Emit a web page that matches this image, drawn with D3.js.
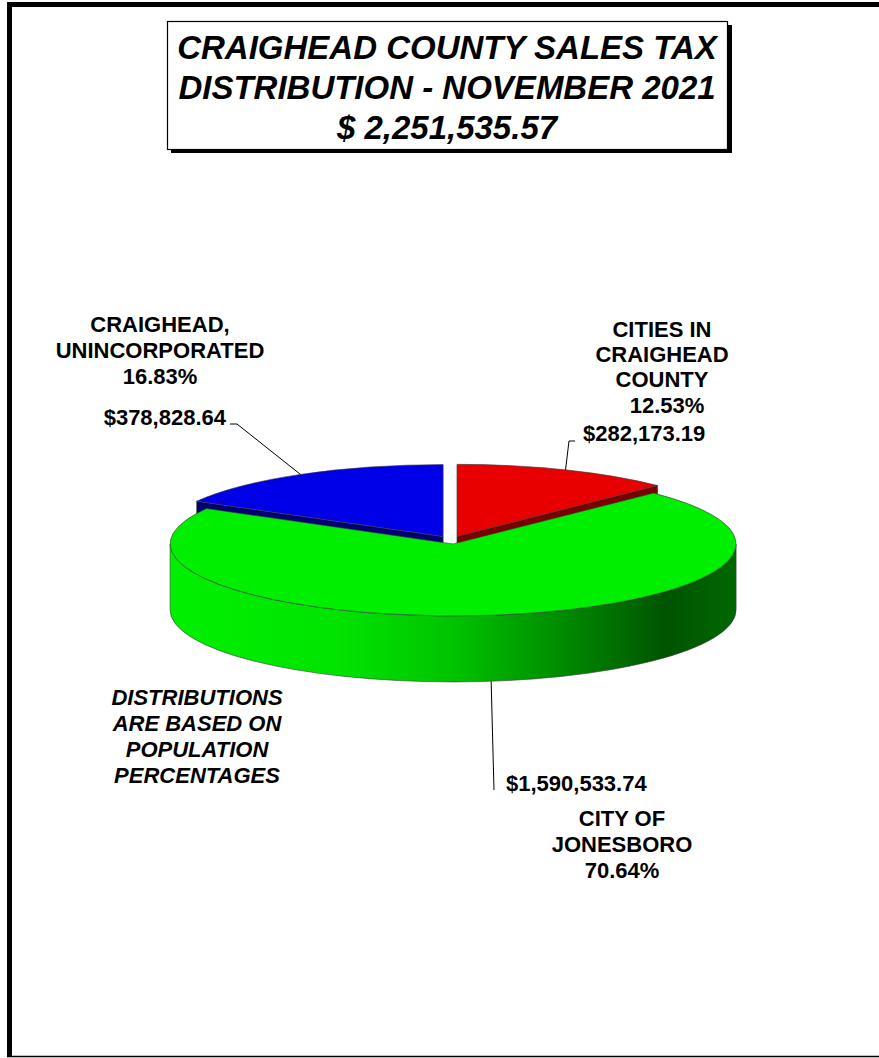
<!DOCTYPE html>
<html>
<head>
<meta charset="utf-8">
<script src="https://cdn.jsdelivr.net/npm/d3@7/dist/d3.min.js"></script>
<style>
  html, body { margin: 0; padding: 0; background: #ffffff; }
  svg { display: block; }
  text { font-family: "Liberation Sans", Arial, sans-serif; font-weight: bold; fill: #000; }
</style>
</head>
<body>
<svg id="chart" width="879" height="1058"></svg>
<script>
// ---- data ----
const categories = ["CITIES IN CRAIGHEAD COUNTY", "CITY OF JONESBORO", "CRAIGHEAD, UNINCORPORATED"];
const amounts = [282173.19, 1590533.74, 378828.64];
const nameLines = [["CITIES IN", "CRAIGHEAD", "COUNTY"], ["CITY OF", "JONESBORO"], ["CRAIGHEAD,", "UNINCORPORATED"]];
const titleLines = ["CRAIGHEAD COUNTY SALES TAX", "DISTRIBUTION - NOVEMBER 2021"];
const noteLines = ["DISTRIBUTIONS", "ARE BASED ON", "POPULATION", "PERCENTAGES"];

// ---- styles ----
const topColors = ["#e80000", "#00ee00", "#0000e8"];
const faceColors = ["#7a0000", "#006000", "#000070"];

const svg = d3.select("#chart");
const defs = svg.append("defs");

// outer frame
svg.append("rect").attr("x", 7).attr("y", 2).attr("width", 872).attr("height", 5).attr("fill", "#000");
svg.append("rect").attr("x", 7).attr("y", 2).attr("width", 5).attr("height", 1055).attr("fill", "#000");
svg.append("line").attr("x1", 7).attr("x2", 879).attr("y1", 1056.5).attr("y2", 1056.5).attr("stroke", "#000").attr("stroke-width", 1.5);

// title box
svg.append("rect").attr("x", 171).attr("y", 25).attr("width", 561).attr("height", 128).attr("fill", "#000");
svg.append("rect").attr("x", 167.5).attr("y", 21.5).attr("width", 560).attr("height", 128)
  .attr("fill", "#fff").attr("stroke", "#000").attr("stroke-width", 1.2);
const total = d3.sum(amounts);
const money = d3.format("$,.2f");
const allTitle = titleLines.concat(["$ " + d3.format(",.2f")(total)]);
svg.append("g").selectAll("text").data(allTitle).join("text")
  .attr("x", 447).attr("y", (d, i) => 59 + i * 40)
  .attr("text-anchor", "middle").style("font-size", "33px").style("font-style", "italic")
  .text(d => d);

// ---- 3D pie ----
const cx = 451, cy = 540, rx = 283, ry = 72, depth = 66, explode = 0.055;
const pie = d3.pie().sort(null).startAngle(0).endAngle(2 * Math.PI);
const arcs = pie(amounts);

const gradG = defs.append("linearGradient").attr("id", "gwall")
  .attr("gradientUnits", "userSpaceOnUse").attr("x1", cx - rx).attr("x2", cx + rx).attr("y1", 0).attr("y2", 0);
[[0, "#00f000"], [0.3, "#00e400"], [0.5, "#00c400"], [0.7, "#008a00"], [0.88, "#005400"], [1, "#006800"]]
  .forEach(s => gradG.append("stop").attr("offset", s[0]).attr("stop-color", s[1]));
const wallFill = ["#900000", "url(#gwall)", "#000090"];

function centerOf(a) {
  const m = (a.startAngle + a.endAngle) / 2;
  return [cx + rx * explode * Math.sin(m), cy - ry * explode * Math.cos(m)];
}
function pt(c, ang, dz) { return [c[0] + rx * Math.sin(ang), c[1] - ry * Math.cos(ang) + (dz || 0)]; }

const order = arcs.map((a, i) => i).sort((i, j) => {
  const mi = (arcs[i].startAngle + arcs[i].endAngle) / 2, mj = (arcs[j].startAngle + arcs[j].endAngle) / 2;
  return (-Math.cos(mi)) - (-Math.cos(mj));
});
const gPie = svg.append("g");
const stroke = "#3a3a3a", sw = 0.6;

order.forEach(i => {
  const a = arcs[i], c = centerOf(a);
  const a0 = a.startAngle, a1 = a.endAngle;
  // radial faces
  const faces = [];
  if (Math.sin(a0) < -1e-6) faces.push(a0);
  if (Math.sin(a1) > 1e-6) faces.push(a1);
  faces.forEach(ang => {
    const p = pt(c, ang), pb = pt(c, ang, depth);
    gPie.append("path")
      .attr("d", `M${c[0]},${c[1]}L${p[0]},${p[1]}L${pb[0]},${pb[1]}L${c[0]},${c[1] + depth}Z`)
      .attr("fill", faceColors[i]).attr("stroke", stroke).attr("stroke-width", sw);
  });
  // outer wall (front half)
  const s = Math.max(a0, Math.PI / 2), e = Math.min(a1, 3 * Math.PI / 2);
  if (e > s) {
    const p0 = pt(c, s), p1 = pt(c, e), q1 = pt(c, e, depth), q0 = pt(c, s, depth);
    const large = (e - s) > Math.PI ? 1 : 0;
    gPie.append("path")
      .attr("d", `M${p0}A${rx},${ry} 0 ${large} 1 ${p1}L${q1}A${rx},${ry} 0 ${large} 0 ${q0}Z`)
      .attr("fill", wallFill[i]).attr("stroke", stroke).attr("stroke-width", sw);
  }
  // top face
  const t0 = pt(c, a0), t1 = pt(c, a1);
  const lg = (a1 - a0) > Math.PI ? 1 : 0;
  gPie.append("path")
    .attr("d", `M${c}L${t0}A${rx},${ry} 0 ${lg} 1 ${t1}Z`)
    .attr("fill", topColors[i]).attr("stroke", stroke).attr("stroke-width", sw);
});

// ---- labels ----
const pct = d3.format(".2%");
const labelFont = "22px";
const gLab = svg.append("g");

// leader anchor points on the pie (top edge for back slices, bottom edge for front slice)
function anchor(i) {
  const a = arcs[i], c = centerOf(a), m = (a.startAngle + a.endAngle) / 2;
  return pt(c, m, Math.cos(m) < 0 ? depth : 0);
}

// red: cities in county
{
  const i = 0, p = anchor(i);
  gLab.append("path").attr("d", `M575,441L569,441L${p}`).attr("fill", "none").attr("stroke", "#000").attr("stroke-width", 1);
  gLab.selectAll(null).data(nameLines[i]).join("text").attr("x", 662).attr("y", (d, k) => 337 + k * 25)
    .attr("text-anchor", "middle").style("font-size", labelFont).text(d => d);
  gLab.append("text").attr("x", 667).attr("y", 413).attr("text-anchor", "middle").style("font-size", labelFont).text(pct(amounts[i] / total));
  gLab.append("text").attr("x", 583).attr("y", 441).style("font-size", labelFont).text(money(amounts[i]));
}
// blue: unincorporated
{
  const i = 2, p = anchor(i);
  gLab.append("path").attr("d", `M230,424L237,424L${p}`).attr("fill", "none").attr("stroke", "#000").attr("stroke-width", 1);
  gLab.selectAll(null).data(nameLines[i].concat([pct(amounts[i] / total)])).join("text")
    .attr("x", 160).attr("y", (d, k) => 332 + k * 26)
    .attr("text-anchor", "middle").style("font-size", labelFont).text(d => d);
  gLab.append("text").attr("x", 226).attr("y", 425).attr("text-anchor", "end").style("font-size", labelFont).text(money(amounts[i]));
}
// green: Jonesboro
{
  const i = 1, p = anchor(i);
  gLab.append("path").attr("d", `M${p}L494,790`).attr("fill", "none").attr("stroke", "#000").attr("stroke-width", 1);
  gLab.append("text").attr("x", 506).attr("y", 791).style("font-size", labelFont).text(money(amounts[i]));
  gLab.selectAll(null).data(nameLines[i].concat([pct(amounts[i] / total)])).join("text")
    .attr("x", 622).attr("y", (d, k) => 826 + k * 26)
    .attr("text-anchor", "middle").style("font-size", labelFont).text(d => d);
}
// note
gLab.selectAll(null).data(noteLines).join("text")
  .attr("x", 197).attr("y", (d, k) => 705 + k * 26)
  .attr("text-anchor", "middle").style("font-size", labelFont).style("font-style", "italic").text(d => d);
</script>
</body>
</html>
